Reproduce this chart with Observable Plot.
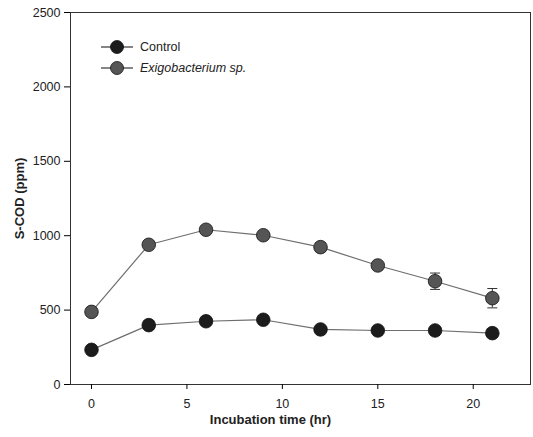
<!DOCTYPE html>
<html>
<head>
<meta charset="utf-8">
<script src="https://cdn.jsdelivr.net/npm/d3@7"></script>
<script src="https://cdn.jsdelivr.net/npm/@observablehq/plot@0.6"></script>
<style>
  html, body { margin: 0; padding: 0; background: #fff; }
  #wrap { position: relative; width: 533px; height: 437px; font-family: "Liberation Sans", Arial, sans-serif; }
  #wrap svg text { fill: #222; }
  g[aria-label="y-axis label"] text { font-weight: bold; font-size: 13px; }
  .legend { position: absolute; left: 100px; top: 36px; font-size: 12.5px; color: #222; }
  .legend .row { display: flex; align-items: center; height: 21px; }
  .legend .row span { margin-left: 6px; }
</style>
</head>
<body>
<div id="wrap"></div>
<script>
const times = [0, 3, 6, 9, 12, 15, 18, 21];
const seriesNames = ["Control", "Exigobacterium sp."];
const controlValues = [233, 399, 425, 435, 370, 363, 363, 345];
const controlErrors = [10, 10, 12, 12, 12, 10, 15, 10];
const exiValues = [488, 939, 1040, 1003, 923, 800, 694, 580];
const exiErrors = [10, 15, 15, 20, 30, 20, 55, 65];
const yTicks = [0, 500, 1000, 1500, 2000, 2500];
const xTicks = [0, 5, 10, 15, 20];

const colors = {"Control": "#1c1c1c", "Exigobacterium sp.": "#555555"};

const data = [];
times.forEach((t, i) => {
  data.push({t, v: controlValues[i], e: controlErrors[i], s: seriesNames[0]});
  data.push({t, v: exiValues[i], e: exiErrors[i], s: seriesNames[1]});
});

const capSymbol = {
  draw(ctx, size) {
    const w = 5;
    ctx.moveTo(-w, 0);
    ctx.lineTo(w, 0);
  }
};

const chart = Plot.plot({
  width: 533,
  height: 437,
  marginLeft: 70,
  marginRight: 3,
  marginTop: 12,
  marginBottom: 53,
  style: {fontFamily: "'Liberation Sans', Arial, sans-serif", fontSize: "12.5px", background: "#fff"},
  x: {domain: [-1.1, 23]},
  y: {domain: [0, 2500]},
  marks: [
    Plot.frame({stroke: "#333", strokeWidth: 1}),
    Plot.axisY({ticks: yTicks, tickSize: 6, tickPadding: 4, label: "S-COD (ppm)", labelAnchor: "center", labelArrow: "none", labelOffset: 56, tickFormat: d => String(d)}),
    Plot.axisX({ticks: xTicks, tickSize: 5, tickPadding: 10, label: null, tickFormat: d => String(d)}),
    Plot.text(["Incubation time (hr)"], {frameAnchor: "bottom", dx: -30, dy: 39, fontWeight: "bold", fontSize: 13}),
    Plot.line(data, {x: "t", y: "v", z: "s", stroke: "#6e6e6e", strokeWidth: 1.2}),
    Plot.ruleX(data, {x: "t", y1: d => d.v - d.e, y2: d => d.v + d.e, stroke: "#333", strokeWidth: 1}),
    Plot.dot(data, {x: "t", y: d => d.v + d.e, symbol: capSymbol, stroke: "#333", strokeWidth: 1, r: 3}),
    Plot.dot(data, {x: "t", y: d => d.v - d.e, symbol: capSymbol, stroke: "#333", strokeWidth: 1, r: 3}),
    Plot.dot(data, {x: "t", y: "v", r: 6.8, fill: d => colors[d.s], stroke: "#111", strokeWidth: 0.8})
  ]
});

const wrap = document.getElementById("wrap");
wrap.appendChild(chart);

const legend = document.createElement("div");
legend.className = "legend";
seriesNames.forEach((name, i) => {
  const row = document.createElement("div");
  row.className = "row";
  row.innerHTML = `<svg width="34" height="16"><line x1="1" y1="8" x2="33" y2="8" stroke="#333" stroke-width="1.2"/><circle cx="17" cy="8" r="6.5" fill="${colors[name]}" stroke="#111" stroke-width="0.8"/></svg>`;
  const label = document.createElement("span");
  label.textContent = name;
  if (i === 1) label.style.fontStyle = "italic";
  row.appendChild(label);
  legend.appendChild(row);
});
wrap.appendChild(legend);
</script>
</body>
</html>
